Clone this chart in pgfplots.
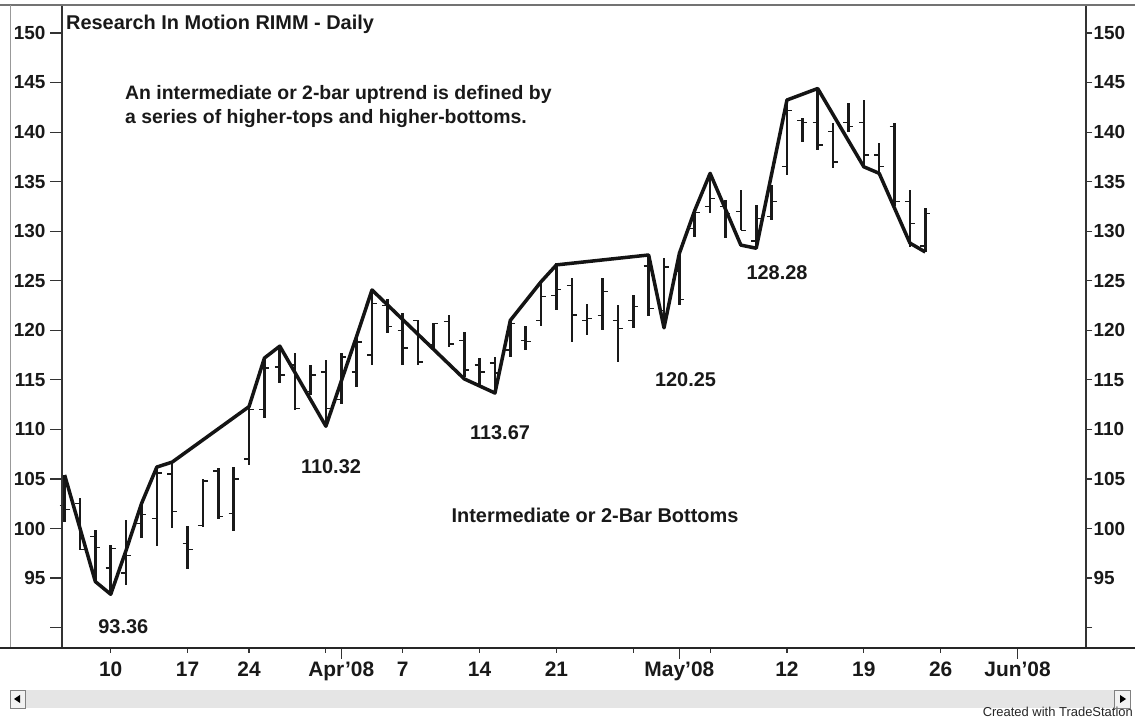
\documentclass[border=0pt]{standalone}
\usepackage{pgfplots}
\pgfplotsset{compat=1.18}
\usepackage{pgfplotstable}
\usepackage{fontspec}
\setmainfont{Liberation Sans}

\pgfplotstableread{
x o h l c
-3 102.3 105.4 100.7 101.9
-2 102.5 103.05 97.8 97.9
-1 99.2 99.85 94.64 98.1
0 96.0 98.3 93.36 98.0
1 95.5 100.86 94.3 97.3
2 100.5 102.5 99.0 101.4
3 101.0 106.2 98.2 105.6
4 105.5 106.7 100.0 101.7
5 98.5 100.25 95.9 97.9
6 100.3 104.96 100.2 104.8
7 105.8 106.1 101.0 101.2
8 101.5 106.2 99.7 105.0
9 107.0 112.3 106.4 112.0
10 112.0 117.2 111.1 116.2
11 116.3 118.4 114.65 115.5
12 116.5 117.7 111.96 112.1
13 113.8 116.5 113.5 115.5
14 115.8 117.0 110.32 112.1
15 113.0 117.7 112.6 117.3
16 115.8 119.4 114.3 118.8
17 117.5 124.07 116.5 122.7
18 122.5 123.2 119.7 120.4
19 120.0 121.7 116.5 118.2
20 121.0 121.0 116.5 116.8
21 118.5 120.7 118.0 120.7
22 120.9 121.55 118.35 118.6
23 119.0 119.86 115.3 116.0
24 116.5 117.2 114.3 115.8
25 116.7 117.35 113.67 115.7
26 118.0 121.0 117.35 120.7
27 119.0 120.4 118.0 118.9
28 121.0 124.9 120.4 123.4
29 123.5 126.76 122.05 124.1
30 124.5 125.25 118.85 121.55
31 121.0 122.7 119.5 121.2
32 121.5 125.25 120.0 123.9
33 121.0 122.6 116.84 120.2
34 121.0 123.57 120.2 122.4
35 126.5 127.6 121.4 122.2
36 122.0 127.27 120.25 126.4
37 126.0 127.77 122.56 123.1
38 130.3 132.1 129.45 131.9
39 132.5 135.84 131.8 133.3
40 132.5 133.15 129.3 131.8
41 132.0 134.2 130.1 130.1
42 129.0 132.65 128.28 131.3
43 131.5 134.67 131.1 133.0
44 136.5 143.24 135.68 142.2
45 141.2 141.4 139.0 141.0
46 141.0 144.4 138.2 138.7
47 140.05 140.9 136.35 137.0
48 141.0 142.9 140.05 140.55
49 141.0 143.24 136.5 137.7
50 137.7 138.87 135.84 136.5
51 140.55 140.9 132.5 133.0
52 133.0 134.2 128.4 130.8
53 128.5 132.3 127.9 131.8
}\bars

\pgfplotstableread{
x y
-3 105.4
-1 94.64
0 93.36
1 97.8
2 102.5
3 106.2
4 106.7
9 112.3
10 117.2
11 118.4
14 110.32
16 119.4
17 124.07
23 115.1
25 113.67
26 121.0
28 124.9
29 126.6
35 127.6
36 120.25
37 127.77
38 132.1
39 135.84
41 128.6
42 128.28
44 143.24
46 144.4
49 136.5
50 135.84
52 128.8
53 127.9
}\swing

\pgfdeclareplotmark{openL}{\pgfpathmoveto{\pgfpoint{-5bp}{0pt}}\pgfpathlineto{\pgfpoint{0pt}{0pt}}\pgfusepathqstroke}
\pgfdeclareplotmark{closeR}{\pgfpathmoveto{\pgfpoint{0pt}{0pt}}\pgfpathlineto{\pgfpoint{5bp}{0pt}}\pgfusepathqstroke}

\pgfplotsset{
  rimmaxis/.style={
    at={(0bp,0bp)}, anchor=south west, scale only axis,
    width=1024bp, height=643bp,
    xmin=-3.17, xmax=63.46, ymin=87.94, ymax=152.83,
    axis line style={line width=1.7bp, black!80},
    tick align=outside,
    tick style={black!80, line width=1.2bp},
  },
  rimmy/.style={
    ytick={90,95,100,105,110,115,120,125,130,135,140,145,150},
    yticklabels={,95,100,105,110,115,120,125,130,135,140,145,150},
    yticklabel style={font=\bfseries\fontsize{19}{19}\selectfont, text=black!90},
  }
}

\begin{document}
\begin{tikzpicture}[x=1bp,y=1bp]
\path[use as bounding box, fill=white] (0,0) rectangle (1135,723);

\begin{scope}[shift={(62bp,75bp)}]
\begin{axis}[rimmaxis,
    ytick=\empty,
    xtick pos=bottom,
    major tick length=5bp,
    xtick={0,5,9,14,19,24,29,34,39,44,49,54},
    xticklabels={10,17,24,,7,14,21,,,12,19,26},
    xticklabel style={font=\bfseries\fontsize{21}{21}\selectfont, text=black!90, text height=15bp, text depth=4bp, yshift=-5bp},
    extra x ticks={15,37,59},
    extra x tick labels={Apr’08,May’08,Jun’08},
    extra x tick style={major tick length=11bp, tick style={line width=1.4bp}, xticklabel style={yshift=6bp}},
  ]
  \addplot[only marks, mark=openL, black!90, line width=1.4bp,
    error bars/.cd, y dir=both, y explicit, error mark=none,
    error bar style={line width=2.6bp, black!90}]
    table[x=x, y=o, y error plus expr=\thisrow{h}-\thisrow{o}, y error minus expr=\thisrow{o}-\thisrow{l}] {\bars};
  \addplot[only marks, mark=closeR, black!90, line width=1.4bp] table[x=x, y=c] {\bars};
  \addplot[black!92, line width=3.5bp, line join=round, mark=none] table[x=x, y=y] {\swing};
\end{axis}

\begin{axis}[rimmaxis, rimmy,
    hide x axis,
    axis y line*=left,
    major tick length=12bp,
    yticklabel style={xshift=-1bp},
  ]
  \addplot[draw=none, mark=none] coordinates {(0,100)};
\end{axis}

\begin{axis}[rimmaxis, rimmy,
    hide x axis,
    axis y line*=right,
    major tick length=6bp,
    yticklabel style={anchor=west, xshift=-2bp},
  ]
  \addplot[draw=none, mark=none] coordinates {(0,100)};
\end{axis}
\end{scope}

% window frame lines
\draw[black!55, line width=1.2bp] (0,718) -- (1135,718);
\draw[black!40, line width=1bp] (10,75) -- (10,718);
\draw[black!85, line width=1.7bp] (0,75) -- (1135,75);

% title and annotations
\node[anchor=base west, inner sep=0pt, font=\bfseries\fontsize{20}{20}\selectfont, text=black!90] at (66,693.7) {Research In Motion RIMM - Daily};
\node[anchor=base west, inner sep=0pt, font=\bfseries\fontsize{19.5}{19.5}\selectfont, text=black!90] at (125,623.7) {An intermediate or 2-bar uptrend is defined by};
\node[anchor=base west, inner sep=0pt, font=\bfseries\fontsize{19.5}{19.5}\selectfont, text=black!90] at (125,599.7) {a series of higher-tops and higher-bottoms.};

\begin{scope}[every node/.style={anchor=base, inner sep=0pt, font=\bfseries\fontsize{20}{20}\selectfont, text=black!90}]
\node at (123.3,89.7) {93.36};
\node at (331,249.7) {110.32};
\node at (500,283) {113.67};
\node at (685.5,336.3) {120.25};
\node at (777,443) {128.28};
\node at (595,200) {Intermediate or 2-Bar Bottoms};
\end{scope}

% scroll bar
\fill[black!10] (10,15) rectangle (1130,33);
\draw[black!50, line width=0.8bp, fill=black!5] (10,15) rectangle (25,33);
\fill[black] (14,24) -- (20,28) -- (20,20) -- cycle;
\draw[black!50, line width=0.8bp, fill=black!5] (1114,15) rectangle (1130,33);
\fill[black] (1126,24) -- (1120,28) -- (1120,20) -- cycle;

\node[anchor=base east, inner sep=0pt, font=\fontsize{13}{13}\selectfont, text=black!85] at (1133,6) {Created with TradeStation};
\end{tikzpicture}
\end{document}
